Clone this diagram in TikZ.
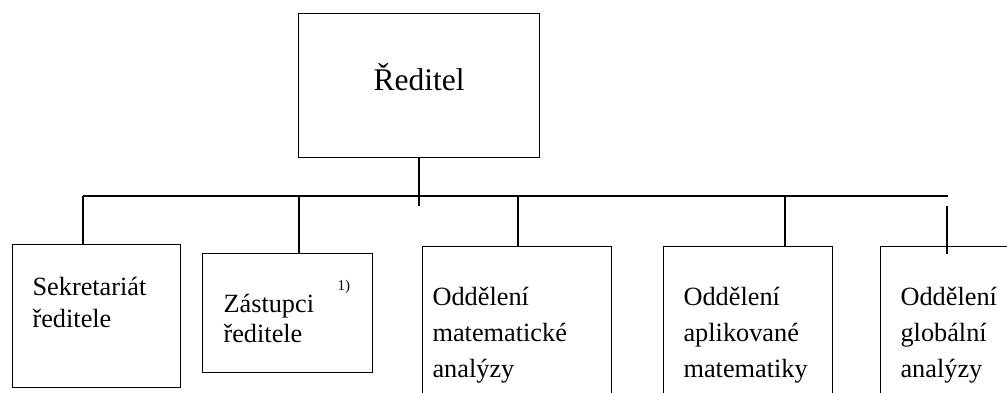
\documentclass[tikz,border=0pt]{standalone}
\usepackage{fontspec}
\setmainfont{Liberation Serif}
\begin{document}
\begin{tikzpicture}[x=1pt, y=-1pt, line width=1.1pt,
		box/.style={draw, rectangle, inner sep=0pt, anchor=north west},
		t/.style={inner sep=0pt, anchor=base west, align=left, font=\fontsize{26.3}{36}\selectfont}]
			\useasboundingbox (0,0) rectangle (1007,392);
			\clip (0,0) rectangle (1007,392);

			\node[box, minimum width=241pt, minimum height=144pt] (r) at (298,13) {};
			\node[box, minimum width=168pt, minimum height=143pt] (s) at (12,244) {};
			\node[box, minimum width=170pt, minimum height=119pt] (z) at (202,253) {};
			\node[box, minimum width=189pt, minimum height=200pt] (ma) at (422,246) {};
			\node[box, minimum width=169pt, minimum height=200pt] (am) at (663,246) {};
			\node[box, minimum width=200pt, minimum height=200pt] (ga) at (880,246) {};

			% base of a multi-line node is its last line
			\node[inner sep=0pt, anchor=base, font=\fontsize{31.5}{36}\selectfont] (rt) at (419,90) {Ředitel};
			\node[t, font=\fontsize{26.3}{32}\selectfont] (st) at (32,327) {Sekretariát\\ředitele};
			\node[t, font=\fontsize{26.3}{30}\selectfont] (zt) at (223,342) {Zástupci\\ředitele};
			\node[inner sep=0pt, anchor=base west, font=\fontsize{15}{18}\selectfont] (zn) at (337,290) {1)};
			\node[t] (mat) at (432,377) {Oddělení\\matematické\\analýzy};
			\node[t] (amt) at (683,377) {Oddělení\\aplikované\\matematiky};
			\node[t] (gat) at (900,377) {Oddělení\\globální\\analýzy};

			\coordinate (bl) at (83,196);
			\coordinate (br) at (948,196);
			\coordinate (rd) at (419,206);
			\coordinate (gt) at (947,206);
			\coordinate (gb) at (947,254);

			\draw (bl) -- (br);
			\draw (r.south -| rd) -- (rd);
			\draw (bl) -- (bl |- s.north);
			\draw (299,196) -- (299,196 |- z.north);
			\draw (518,196) -- (518,196 |- ma.north);
			\draw (785,196) -- (785,196 |- am.north);
			\draw (gt) -- (gb);
		\end{tikzpicture}
\end{document}
